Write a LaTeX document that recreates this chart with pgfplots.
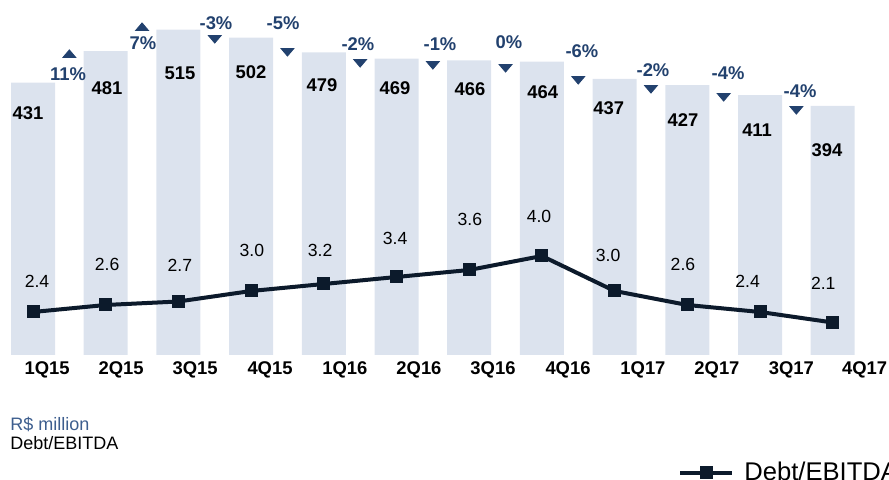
\documentclass[border=0pt]{standalone}
\usepackage{fontspec}
\setmainfont{Liberation Sans}
\usepackage{pgfplots}
\pgfplotsset{compat=1.18}

\definecolor{barfill}{HTML}{DCE3EE}
\definecolor{navy}{HTML}{22416E}
\definecolor{linedark}{HTML}{0C1A2B}
\definecolor{subblue}{HTML}{3D5E8E}

% both axes share the same x scale, only the y scale differs
\pgfplotsset{
  frame/.style={
    x=36.35pt, xmin=-0.3, xmax=11.8,
    anchor=south west,
    axis line style={draw=none},
    tick style={draw=none},
    ytick=\empty,
    clip=false,
  },
  lbl/.style={draw=none, forget plot, nodes near coords, point meta=explicit symbolic,
    every node near coord/.append style={anchor=center, text=black, inner sep=0pt}},
}

\begin{document}
\begin{tikzpicture}
% net debt bars (R$ million)
\begin{axis}[frame, at={(5.6pt,62.5pt)}, y=0.316pt, ymin=0, ymax=560,
  xtick={0.193,1.211,2.229,3.26,4.29,5.309,6.327,7.359,8.39,9.408,10.43,11.44},
  xticklabels={1Q15,2Q15,3Q15,4Q15,1Q16,2Q16,3Q16,4Q16,1Q17,2Q17,3Q17,4Q17},
  xticklabel style={font=\fontsize{9.2}{10}\selectfont\bfseries, anchor=base, yshift=-9.75pt, inner sep=0pt}]
\addplot[ybar, bar width=22pt, fill=barfill, draw=none] coordinates {
  (0,431) (1,481) (2,515) (3,502) (4,479) (5,469)
  (6,466) (7,464) (8,437) (9,427) (10,411) (11,394)
};
\addplot[lbl, every node near coord/.append style={font=\fontsize{9.2}{10}\selectfont\bfseries}] table[meta=lbl] {
x      y     lbl
-0.07  382.9 431
1.018  422.5 481
2.022  446.2 515
2.998  447.8 502
3.975  427.2 479
4.979  422.5 469
6.01   420.9 466
7.01   416.1 464
7.92   390.8 437
8.94   371.8 427
9.96   356.0 411
10.92  324.4 394
};
% change markers
\addplot[only marks, mark=triangle*, mark size=3.75pt, color=navy,
  mark options={yscale=0.68, draw=none, fill=navy}] coordinates {
  (0.5,474.7) (1.5,517.4)
};
\addplot[only marks, mark=triangle*, mark size=3.75pt, color=navy,
  mark options={rotate=180, yscale=0.68, draw=none, fill=navy}] coordinates {
  (2.5,501.6) (3.5,481) (4.5,463.6) (5.5,460.4) (6.5,455.7)
  (7.5,436.7) (8.5,422.5) (9.5,409.8) (10.5,389.2)
};
\addplot[lbl, nodes near coords={\pgfplotspointmeta\%},
  every node near coord/.append style={font=\fontsize{9.2}{10}\selectfont\bfseries, text=navy}] table[meta=lbl] {
x      y     lbl
0.481  444.6 11
1.513  493.7 7
2.517  525.3 -3
3.439  525.3 -5
4.470  492.1 -2
5.598  492.1 -1
6.547  495.3 0
7.551  481.0 -6
8.528  451.0 -2
9.560  446.2 -4
10.55  417.7 -4
};
\end{axis}

% Debt/EBITDA line
\begin{axis}[frame, at={(5.6pt,42pt)}, y=17.5pt, ymin=0, ymax=11, xtick=\empty,
  legend style={at={(0.758,-0.2)}, anchor=west, draw=none, fill=none, inner sep=0pt,
    font=\fontsize{12.8}{14}\selectfont,
    /tikz/every odd column/.append style={column sep=3pt}},
  legend image code/.code={\draw[mark repeat=2, mark phase=2, #1]
    plot coordinates {(0pt,0pt) (13pt,0pt) (26pt,0pt)};}]
\addplot[color=linedark, line width=2pt, mark=square*, mark size=3pt,
  mark options={solid, line width=0.5pt}] coordinates {
  (0,2.4) (1,2.6) (2,2.7) (3,3.0) (4,3.2) (5,3.4)
  (6,3.6) (7,4.0) (8,3.0) (9,2.6) (10,2.4) (11,2.1)
};
\addlegendentry{Debt/EBITDA}
\addplot[lbl, every node near coord/.append style={font=\fontsize{8.8}{10}\selectfont}] table[meta=lbl] {
x      y     lbl
0.055  3.286 2.4
1.02   3.771 2.6
2.02   3.743 2.7
3.01   4.171 3.0
3.95   4.171 3.2
4.98   4.514 3.4
6.01   5.057 3.6
6.96   5.143 4.0
7.91   4.029 3.0
8.94   3.771 2.6
9.83   3.286 2.4
10.87  3.229 2.1
};
\end{axis}

\node[anchor=west, inner sep=0pt, text=subblue, font=\fontsize{9}{10}\selectfont] at (5pt,28pt) {R\$ million};
\node[anchor=west, inner sep=0pt, font=\fontsize{9}{10}\selectfont] at (5pt,18.5pt) {Debt/EBITDA};

\pgfresetboundingbox
\path[use as bounding box] (0,0) rectangle (444.5pt,240pt);
\end{tikzpicture}
\end{document}
